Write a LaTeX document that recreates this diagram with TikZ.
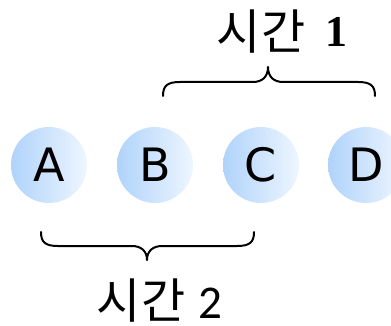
\documentclass[tikz,border=0pt]{standalone}
\usepackage{fontspec}
\setmainfont{DejaVu Sans}
\newfontfamily\kor{Noto Sans CJK KR}
\newfontfamily\serifnum{Liberation Serif}
\newfontfamily\sansnum{Carlito}
\definecolor{ballL}{RGB}{176,211,251}
\definecolor{ballR}{RGB}{238,246,255}
\tikzset{
  ball/.style={circle, minimum size=76pt, inner sep=0pt, left color=ballL, right color=ballR, font=\fontsize{46}{46}\selectfont},
  bracepath/.style={line width=2pt, line cap=round, line join=round},
  kortext/.style={inner sep=0pt, font=\kor\fontsize{48}{48}\selectfont},
  lbl/.style={inner sep=0pt, anchor=base west}
}
\begin{document}
\begin{tikzpicture}[x=1pt,y=-1pt]
\useasboundingbox (0,0) rectangle (391,326);
\clip (0,0) rectangle (391,326);
\node[ball] (A) at (49,165) {A};
\node[ball] (B) at (155,165) {B};
\node[ball] (C) at (261,165) {C};
\node[ball] (D) at (366,165) {D};
% top brace over B..D
\draw[bracepath] (163,96) .. controls (163,86) and (167,82) .. (180,82) -- (253,82)
  .. controls (262,82) and (268,77) .. (268,67)
  .. controls (268,77) and (274,82) .. (283,82) -- (358,82)
  .. controls (371,82) and (375,86) .. (375,96);
% bottom brace under A..C
\draw[bracepath] (41,232) .. controls (41,242) and (45,246) .. (58,246) -- (132,246)
  .. controls (141,246) and (147,251) .. (147,260)
  .. controls (147,251) and (153,246) .. (162,246) -- (237,246)
  .. controls (250,246) and (254,242) .. (254,232);
\node[kortext] (k1) at (261,32) {시간};
\node[lbl, font=\serifnum\bfseries\fontsize{44}{44}\selectfont] (n1) at (325,47) {1};
\node[kortext] (k2) at (141,301) {시간};
\node[lbl, font=\sansnum\fontsize{47}{47}\selectfont] (n2) at (198,318) {2};
\end{tikzpicture}
\end{document}
